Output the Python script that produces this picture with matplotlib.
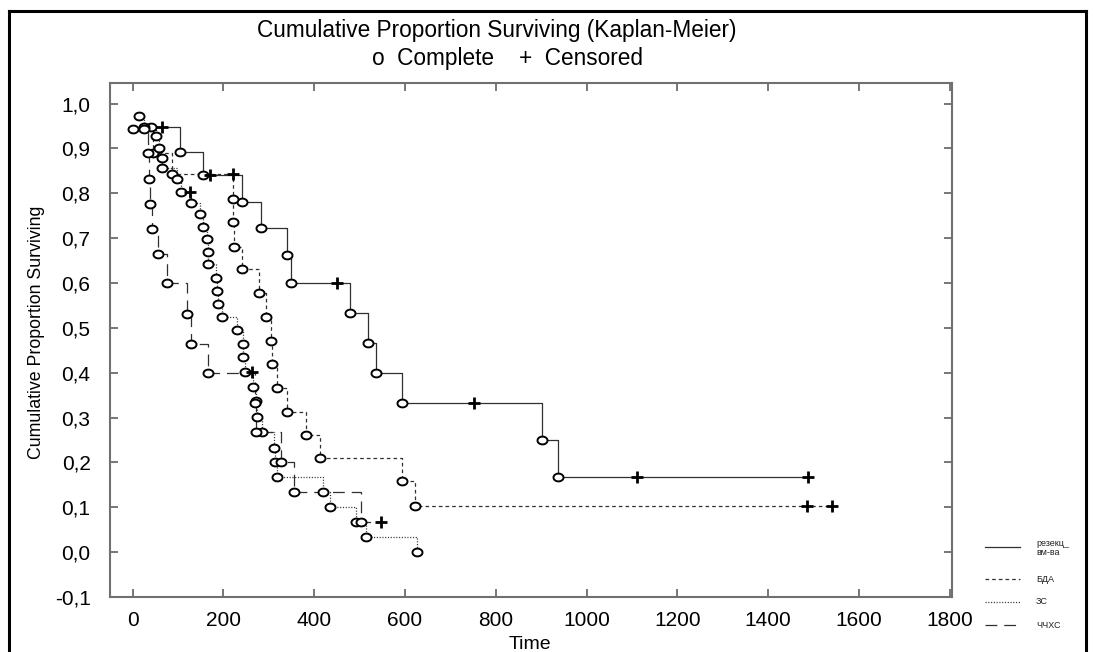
import matplotlib
matplotlib.use('Agg')
import matplotlib.pyplot as plt
from matplotlib.path import Path
from matplotlib.lines import Line2D
from matplotlib import font_manager
import numpy as np

plt.rcParams['font.family'] = ['Liberation Sans', 'DejaVu Sans']
plt.rcParams['lines.scale_dashes'] = False

# ---------------- data ----------------
groups = ['резекц_\nвм-ва', 'БДА', 'ЗС', 'ЧЧХС']

rez_t = [40, 64, 104, 154, 170, 240, 282, 339, 348, 449, 478, 518, 537, 593, 751, 901, 938, 1110, 1487]
rez_s = [0.947, 0.947, 0.893, 0.840, 0.840, 0.780, 0.722, 0.662, 0.600, 0.600, 0.533, 0.467, 0.400, 0.333,
         0.333, 0.250, 0.167, 0.167, 0.167]
rez_c = [0, 1, 0, 0, 1, 0, 0, 0, 0, 1, 0, 0, 0, 0, 1, 0, 0, 1, 1]

bda_t = [26, 44, 86, 220, 221, 222, 223, 240, 278, 293, 304, 306, 317, 341, 381, 412, 593, 621, 1485, 1540]
bda_s = [0.947, 0.891, 0.842, 0.842, 0.787, 0.736, 0.680, 0.631, 0.578, 0.524, 0.471, 0.420, 0.367, 0.313,
         0.262, 0.211, 0.158, 0.104, 0.104, 0.104]
bda_c = [0, 0, 0, 1, 0, 0, 0, 0, 0, 0, 0, 0, 0, 0, 0, 0, 0, 0, 1, 1]

zs_t = [13, 26, 51, 57, 64, 65, 97, 106, 126, 128, 148, 154, 163, 165, 167, 183, 185, 187, 196, 229,
        242, 243, 247, 262, 264, 271, 273, 284, 311, 313, 317, 419, 434, 491, 515, 626]
zs_s = [0.973, 0.944, 0.927, 0.902, 0.878, 0.856, 0.831, 0.804, 0.804, 0.778, 0.753, 0.725, 0.698, 0.669,
        0.642, 0.611, 0.582, 0.553, 0.525, 0.496, 0.464, 0.436, 0.402, 0.402, 0.369, 0.336, 0.302, 0.267,
        0.233, 0.200, 0.167, 0.133, 0.100, 0.067, 0.033, 0.000]
zs_c = [0, 0, 0, 0, 0, 0, 0, 0, 1, 0, 0, 0, 0, 0, 0, 0, 0, 0, 0, 0,
        0, 0, 0, 1, 0, 0, 0, 0, 0, 0, 0, 0, 0, 0, 0, 0]

chh_t = [0, 33, 37, 38, 42, 55, 75, 119, 128, 165, 270, 272, 326, 355, 502, 548]
chh_s = [0.944, 0.889, 0.831, 0.776, 0.720, 0.664, 0.600, 0.531, 0.464, 0.400, 0.333, 0.267, 0.200, 0.133,
         0.067, 0.067]
chh_c = [0, 0, 0, 0, 0, 0, 0, 0, 0, 0, 0, 0, 0, 0, 0, 1]

x_ticks = [0, 200, 400, 600, 800, 1000, 1200, 1400, 1600, 1800]
y_ticks = [-0.1, 0.0, 0.1, 0.2, 0.3, 0.4, 0.5, 0.6, 0.7, 0.8, 0.9, 1.0]

title_text = 'Cumulative Proportion Surviving (Kaplan-Meier)'
subtitle_text = 'o  Complete    +  Censored'
x_label = 'Time'
y_label = 'Cumulative Proportion Surviving'

# ---------------- styles ----------------
W, H = 1094, 652
fig = plt.figure(figsize=(W / 100, H / 100), dpi=100)

def fx(px):
    return px / W

def fy(py):
    return 1 - py / H

ax = fig.add_axes([fx(110), fy(597), fx(952) - fx(110), fy(83) - fy(597)])

line_styles = [
    dict(linestyle='-'),
    dict(linestyle=(0, (2.6, 2.2))),
    dict(linestyle=(0, (0.8, 1.2))),
    dict(linestyle=(0, (8.5, 5.0))),
]
line_color = '#303030'

theta = np.linspace(0, 2 * np.pi, 60)
ell = Path(np.column_stack([np.cos(theta), 0.78 * np.sin(theta)]), closed=True)

series = [(rez_t, rez_s, rez_c), (bda_t, bda_s, bda_c), (zs_t, zs_s, zs_c), (chh_t, chh_s, chh_c)]

for (t, s, c), st in zip(series, line_styles):
    t = np.asarray(t, float)
    s = np.asarray(s, float)
    c = np.asarray(c, bool)
    ax.plot(t, s, drawstyle='steps-post', color=line_color, lw=0.9, zorder=2, **st)
    ax.plot(t[~c], s[~c], linestyle='none', marker=ell, markersize=7.2, markerfacecolor='white',
            markeredgecolor='black', markeredgewidth=1.4, zorder=4)
    ax.plot(t[c], s[c], linestyle='none', marker='+', markersize=8, markeredgecolor='black',
            markeredgewidth=2.0, zorder=5)

ax.set_xlim(-50, 1805)
ax.set_ylim(-0.1, 1.046)
ax.set_xticks(x_ticks)
ax.set_yticks(y_ticks)
ax.set_xticklabels([str(v) for v in x_ticks])
ax.set_yticklabels([('%.1f' % v).replace('.', ',') for v in y_ticks])
ax.tick_params(direction='in', length=6, width=1.2, color='#606060', top=True, right=True,
               labelsize=15)
ax.tick_params(axis='y', pad=14)
ax.tick_params(axis='x', pad=10)
for sp in ax.spines.values():
    sp.set_color('#707070')
    sp.set_linewidth(1.5)

# titles
fig.text(fx(497), fy(31), title_text, ha='center', va='center', fontsize=16.3)
fig.text(fx(507), fy(58), subtitle_text, ha='center', va='center', fontsize=16.3)

# axis labels
names = {f.name for f in font_manager.fontManager.ttflist}
narrow = 'Liberation Sans Narrow' if 'Liberation Sans Narrow' in names else 'Liberation Sans'
fig.text(fx(37), fy(332), y_label, rotation=90, ha='center', va='center',
         fontsize=14.5 if narrow != 'Liberation Sans' else 12.8,
         family=[narrow, 'DejaVu Sans'])
fig.text(fx(530), fy(636), x_label, ha='center', va='top', fontsize=14)

# legend (outside plot, bottom right)
leg_y = [547, 579, 602, 625]
text_y = [548, 579, 602, 626]
for lab, st, ly, ty in zip(groups, line_styles, leg_y, text_y):
    fig.add_artist(Line2D([fx(985), fx(1020)], [fy(ly), fy(ly)], color=line_color, lw=0.9, **st))
    fig.text(fx(1036), fy(ty), lab, ha='left', va='center', fontsize=6.5, color='#202020',
             linespacing=1.1)

# outer frame (bottom edge lies below the picture)
fig.add_artist(Line2D([fx(9), fx(9)], [fy(11), fy(660)], color='black', lw=2.2))
fig.add_artist(Line2D([fx(9), fx(1086)], [fy(11), fy(11)], color='black', lw=2.2))
fig.add_artist(Line2D([fx(1086), fx(1086)], [fy(11), fy(660)], color='black', lw=2.2))

fig.savefig('out.png', dpi=100, facecolor='white')
